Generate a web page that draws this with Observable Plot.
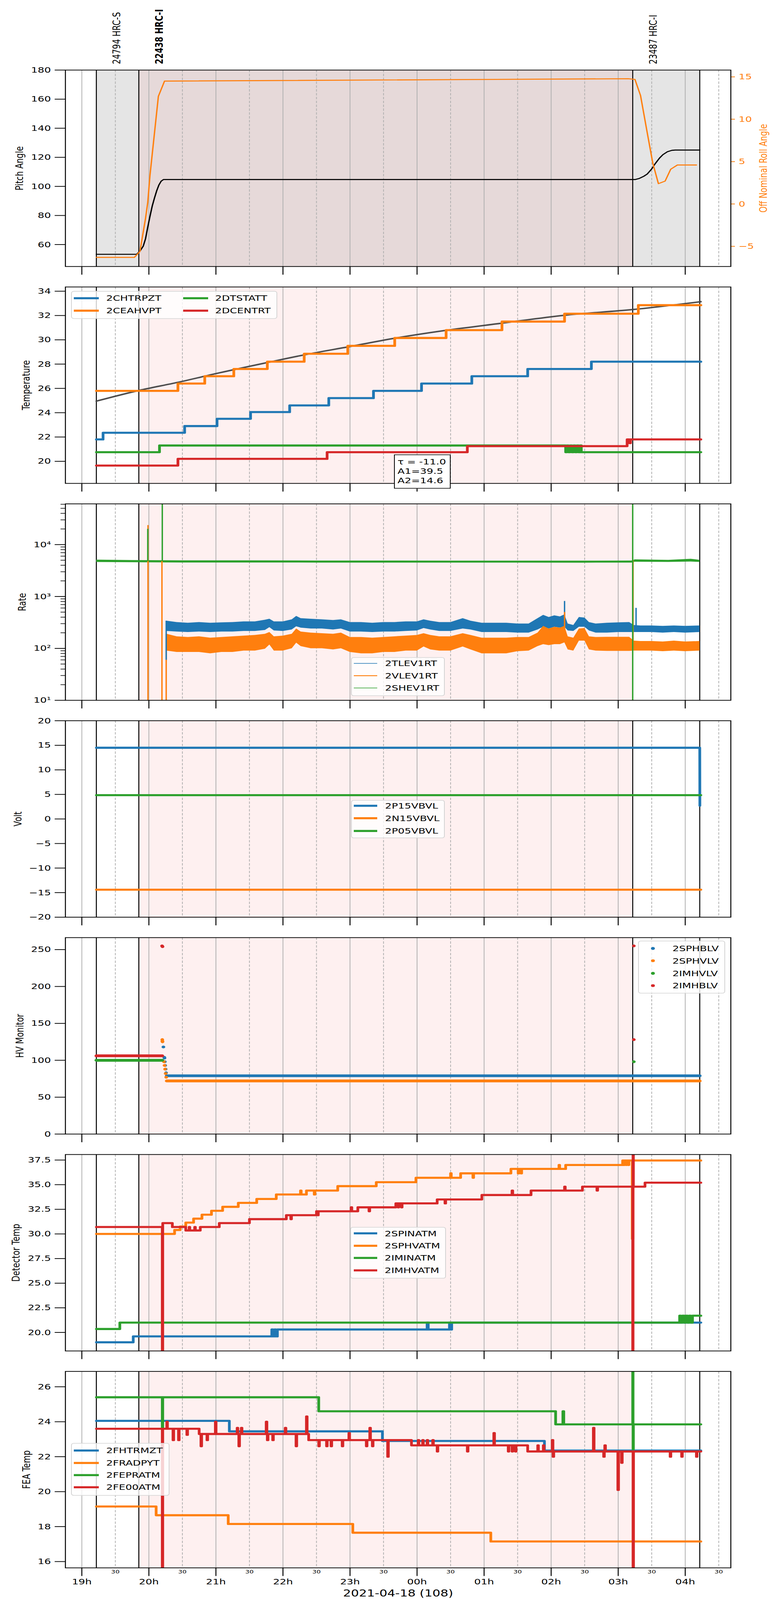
<!DOCTYPE html>
<html><head><meta charset="utf-8">
<script src="https://cdn.jsdelivr.net/npm/d3@7"></script>
<script src="https://cdn.jsdelivr.net/npm/@observablehq/plot@0.6"></script>
<style>
html,body{margin:0;padding:0;background:#fff;overflow:hidden;}
#wrap{position:relative;width:2000px;overflow:hidden;}
#root{position:absolute;left:0;top:0;width:2000px;height:5400px;font-family:"DejaVu Sans";transform-origin:0 0;}
.legend{position:absolute;box-sizing:border-box;border:2px solid #d3d3d3;border-radius:7px;background:rgba(255,255,255,0.8);z-index:5;}
.lgh{position:absolute;z-index:6;}
.lgt{position:absolute;z-index:6;font-family:"DejaVu Sans";font-size:26.67px;line-height:30px;white-space:nowrap;color:#000;}
.note{position:absolute;box-sizing:border-box;border:2px solid #000;background:#fff;z-index:5;}
</style></head><body><div id="wrap"><div id="root"></div></div>
<script>
// ---------------- DATA ----------------
const obsidIds = ["24794", "22438", "23487"];
const obsidInstr = ["HRC-S", "HRC-I", "HRC-I"];
const obsidStart = ["19:13", "19:51", "03:13"];
const obsidStop  = ["19:51", "03:13", "04:13"];
const currentObsid = "22438";

const hourTicks  = ["19:00","20:00","21:00","22:00","23:00","00:00","01:00","02:00","03:00","04:00"];
const hourLabels = ["19h","20h","21h","22h","23h","00h","01h","02h","03h","04h"];
const halfTicks  = ["19:30","20:30","21:30","22:30","23:30","00:30","01:30","02:30","03:30","04:30"];
const halfLabels = ["30","30","30","30","30","30","30","30","30","30"];
const xLabel = "2021-04-18 (108)";

// Panel 1: pitch / roll
const pitchAngle = [["19:13",53.3],["19:49",53.3],["19:52",55.5],["19:55",59],["19:57",64],["19:59",72],["20:01",79.5],["20:03",86.5],["20:05",92],["20:07",97],["20:09",101],["20:11",103.6],["20:13",104.7],["03:15",104.7],["03:19",105.5],["03:23",107],["03:26",108.5],["03:30",112],["03:33",115.5],["03:37",119.5],["03:40",121.8],["03:44",123.8],["03:48",124.8],["03:51",125],["04:13",125]];
const rollAngle = [["19:13",-6.3],["19:47",-6.3],["19:52",-5.6],["19:57",-1.7],["19:59",0.2],["20:01",3.4],["20:08.5",12.7],["20:14",14.5],["03:09",14.78],["03:15",14.7],["03:20",12.8],["03:26",8.4],["03:31",4.8],["03:36",2.4],["03:42",2.7],["03:47",4.1],["03:53",4.6],["04:10",4.6]];
const pitchTicks = [60,80,100,120,140,160,180];
const pitchTickLabels = ["60","80","100","120","140","160","180"];
const rollTicks = [-5,0,5,10,15];
const rollTickLabels = ["\u22125","0","5","10","15"];

// Panel 2: temperatures
const tempNames = ["2CHTRPZT","2CEAHVPT","2DTSTATT","2DCENTRT"];
const chtrpzt = [["19:13",21.8],["19:19",22.35],["20:32",22.9],["21:01",23.5],["21:31",24.05],["22:06",24.6],["22:41",25.2],["23:21",25.8],["00:04",26.4],["00:49",27.0],["01:39",27.6],["02:36",28.2],["04:14",28.2]];
const ceahvpt = [["19:13",25.8],["20:26",26.4],["20:50",27.0],["21:16",27.6],["21:46",28.2],["22:19",28.85],["22:58",29.5],["23:40",30.15],["00:26",30.8],["01:16",31.5],["02:12",32.15],["03:18",32.85],["04:14",32.85]];
const dtstatt = [["19:13",20.75],["20:09.5",21.3],["02:13",20.75],["02:14",21.3],["02:15.5",20.75],["02:17",21.3],["02:18.5",20.75],["02:20",21.3],["02:21.5",20.75],["02:23",21.3],["02:24.5",20.75],["02:26",21.3],["02:27",20.75],["04:14",20.75]];
const dcentrt = [["19:13",19.65],["20:26",20.2],["22:39.5",20.75],["00:45",21.25],["03:08",21.8],["03:10",21.5],["03:11",21.8],["04:14",21.8]];
const tempModel = [["19:13",24.95],["19:51",25.83],["20:26",26.5],["21:03",27.28],["21:46",28.13],["22:19",28.76],["22:59",29.43],["23:42",30.16],["00:26",30.78],["01:16",31.37],["02:12",32.02],["03:13",32.49],["04:14",33.14]];
const fitText = ["\u03c4 = -11.0","A1=39.5","A2=14.6"];
const tempTicks = [20,22,24,26,28,30,32,34];
const tempTickLabels = ["20","22","24","26","28","30","32","34"];

// Panel 3: rates (noise envelopes)
const rateNames = ["2TLEV1RT","2VLEV1RT","2SHEV1RT"];
const rateTimes = ["20:16","20:25","20:35","20:45","20:55","21:05","21:15","21:25","21:35","21:44",
  "21:48","21:52","22:00","22:08","22:12","22:16","22:25","22:35","22:45","22:52",
  "23:00","23:10","23:20","23:30","23:40","23:50","00:00","00:06","00:12","00:20",
  "00:30","00:41","00:48","00:58","01:10","01:20","01:30","01:40",
  "01:48","01:53","01:58","02:03","02:08","02:12","02:15","02:20","02:25","02:30","02:34","02:40",
  "02:50","03:00","03:10","03:14","03:20","03:30","03:40","03:50","04:00","04:13"];
const tlevLo = [215,210,205,210,205,210,210,215,215,225, 255,220,215,230,265,250,240,240,230,240, 210,210,205,210,210,215,220,245,230,215, 215,240,230,205,205,205,200,200, 230,260,240,260,250,260,220,215,260,260,220,200, 200,205,205,205,205,205,200,205,200,205];
const tlevHi = [340,320,310,320,310,315,320,330,330,355, 370,330,330,360,420,380,370,360,350,360, 320,320,310,320,320,330,330,360,340,320, 320,380,340,310,310,310,300,300, 380,440,400,430,410,450,300,280,400,390,320,300, 310,315,320,280,275,275,270,275,270,275];
const vlevLo = [90,85,85,85,80,85,85,90,90,98, 118,90,90,100,128,110,100,100,95,100, 85,80,80,85,85,90,90,108,95,90, 90,108,95,80,80,80,88,90, 110,120,115,120,120,130,95,90,140,140,95,90, 89,89,89,90,90,90,88,90,88,90];
const vlevHi = [190,170,165,170,160,165,170,175,180,190, 205,170,175,190,240,210,200,195,190,200, 165,165,160,165,170,175,180,195,180,170, 170,195,180,160,160,160,165,165, 200,270,240,260,250,270,170,160,240,245,170,165, 166,166,166,140,138,138,135,140,135,138];
const shevTimes = ["19:13","19:45","20:30","21:30","22:30","23:30","00:30","01:30","02:30","03:12","03:15","03:45","04:05","04:13"];
const shevLo = [4600,4550,4500,4500,4480,4480,4470,4470,4460,4480,4650,4600,4700,4600];
const shevHi = [5100,5000,4950,4950,4900,4900,4880,4880,4870,4900,5150,5050,5300,5050];
const spikeTimes  = ["19:59.2","19:59","20:12","20:11.7","20:15.5","20:15.5","02:12","02:12","03:13.3","03:13","03:16"];
const spikeSeries = ["2VLEV1RT","2SHEV1RT","2SHEV1RT","2VLEV1RT","2VLEV1RT","2TLEV1RT","2TLEV1RT","2VLEV1RT","2VLEV1RT","2SHEV1RT","2TLEV1RT"];
const spikeLo = [10,4800,4800,10,10,60,300,150,100,10,250];
const spikeHi = [23600,20000,90000,4800,190,340,815,500,5000,90000,600];
const rateTicks = [10,100,1000,10000];
const rateTickLabels = ["10\u00b9","10\u00b2","10\u00b3","10\u2074"];
const rateMinor = [20,30,40,50,60,70,80,90,200,300,400,500,600,700,800,900,2000,3000,4000,5000,6000,7000,8000,9000,20000,30000,40000,50000,60000];

// Panel 4: voltages
const voltNames = ["2P15VBVL","2N15VBVL","2P05VBVL"];
const p15vbvl = [["19:13",14.5],["04:13",14.5],["04:13.1",2.7]];
const n15vbvl = [["19:13",-14.4],["04:14",-14.4]];
const p05vbvl = [["19:13",4.85],["04:14",4.85]];
const voltTicks = [-20,-15,-10,-5,0,5,10,15,20];
const voltTickLabels = ["\u221220","\u221215","\u221210","\u22125","0","5","10","15","20"];

// Panel 5: HV monitor
const hvNames = ["2SPHBLV","2SPHVLV","2IMHVLV","2IMHBLV"];
const sphblvLevel = [["20:16",79],["04:13",79]];
const sphvlvLevel = [["20:16",72],["04:13",72]];
const imhvlvLevel = [["19:13",100],["20:12",100]];
const imhblvLevel = [["19:13",106],["20:12",106]];
const sphblvDots = [["20:13",118],["20:13.8",104],["20:14",103],["20:14.3",98],["20:14.6",93],["20:15",88],["20:15.4",83]];
const sphvlvDots = [["20:12",128],["20:12.1",126],["20:12.2",125],["20:13.5",98],["20:14",93],["20:14.5",88],["20:15",82],["20:15.5",77]];
const imhvlvDots = [["03:14",98]];
const imhblvDots = [["20:11.8",255],["20:12.2",254],["03:14",255],["03:14",128]];
const hvTicks = [0,50,100,150,200,250];
const hvTickLabels = ["0","50","100","150","200","250"];

// Panel 6: detector temperatures
const detNames = ["2SPINATM","2SPHVATM","2IMINATM","2IMHVATM"];
const spinatm = [["19:13",19.0],["19:46",19.6],["21:50",20.3],["21:51",19.6],["21:52.5",20.3],["21:53.5",19.6],["21:55",20.3],["00:09",21.0],["00:10",20.3],["00:29",21.0],["00:30",20.3],["00:31",21.0],["04:14",21.0]];
const sphvatm = [["19:13",30.0],["20:23",30.4],["20:28",30.75],["20:33",31.15],["20:40",31.55],["20:47.5",31.95],["20:56",32.35],["21:06",32.75],["21:20",33.15],["21:36.5",33.55],["21:54",34.0],["22:21",34.4],["22:49",34.85],["23:23.5",35.25],["23:59",35.7],["00:39",36.15],["01:24",36.6],["02:13",37.0],["03:04",37.45],["04:14",37.45]];
const sphvatmSpikes = [["22:15.7",34.4],["22:28",34.0],["00:30",36.15],["00:50",35.7],["01:30.5",36.15],["01:33",36.15],["02:07",37.0],["03:05",37.0],["03:07",37.0],["03:09",37.0],["03:12.6",29.5]];
const iminatm = [["19:13",20.35],["19:34",21.0],["03:55",21.7],["03:56",21.0],["03:57.5",21.7],["03:59",21.0],["04:00.5",21.7],["04:02",21.0],["04:03.5",21.7],["04:05",21.0],["04:06.5",21.7],["04:14",21.7]];
const imhvatm = [["19:13",30.7],["20:12",17],["20:12.4",31.1],["20:21",30.7],["20:33",30.35],["20:46",30.7],["21:03",31.1],["21:30",31.5],["22:03",31.9],["22:30",32.3],["23:07",32.7],["23:41",33.1],["00:18",33.5],["00:58",33.95],["01:42",34.4],["02:28",34.8],["03:24",35.2],["04:14",35.2]];
const imhvatmSpikes = [["20:36",30.7],["20:41",30.7],["22:07",31.5],["22:31",31.9],["23:01",32.7],["23:17",32.3],["23:43",32.7],["23:46",32.7],["00:25",33.1],["01:25",34.4],["02:12",34.8],["02:41",34.4],["03:13",17],["03:13.3",40]];
const detTicks = [20,22.5,25,27.5,30,32.5,35,37.5];
const detTickLabels = ["20.0","22.5","25.0","27.5","30.0","32.5","35.0","37.5"];

// Panel 7: FEA temperatures
const feaNames = ["2FHTRMZT","2FRADPYT","2FEPRATM","2FE00ATM"];
const fhtrmzt = [["19:13",24.05],["21:12",23.45],["23:29",22.9],["01:54",22.35],["04:14",22.35]];
const fradpyt = [["19:13",19.15],["20:06.5",18.65],["21:11",18.15],["23:02.5",17.65],["01:06",17.15],["04:14",17.15]];
const fepratm = [["19:13",25.4],["20:12",23.65],["20:12.4",25.4],["22:32",24.6],["02:04",23.85],["02:10.5",24.6],["02:11.3",23.85],["03:13",27.5],["03:13.3",22.43],["03:13.6",23.85],["04:14",23.85]];
const fe00atm = [["19:13",23.6],["20:12",15],["20:12.4",23.6],["20:45",23.3],["22:23",22.95],["23:55",22.65],["01:39",22.3],["03:13.3",15],["03:13.7",22.3],["04:14",22.3]];
const fe00atmSpikes = [["20:16",24.0],["20:21.6",22.95],["20:26.5",22.95],["20:34",23.25],["20:46.6",22.6],["20:52",22.95],["20:59.5",24.0],["21:19",23.65],["21:20.5",22.6],["21:22.7",23.65],["21:45",24.0],["21:46",22.95],["21:50.8",22.95],["22:02",23.65],["22:11.7",22.6],["22:21",24.3],["22:32",22.6],["22:39",22.6],["22:43",22.6],["22:53",22.6],["22:59",23.35],["23:14.6",22.6],["23:17.7",23.65],["23:20",22.6],["23:33.7",22.0],["00:01",22.95],["00:05",22.95],["00:09",22.95],["00:14",22.95],["00:18",22.3],["00:45",22.3],["01:08.7",23.35],["01:21.6",22.3],["01:25",22.3],["01:28",22.3],["01:48",22.65],["01:53",22.65],["02:01",22.95],["02:01.7",22.0],["02:37.8",23.65],["02:47",22.0],["02:48",22.65],["02:59.7",20.1],["03:03",21.65],["03:46.5",22.0],["03:56.8",22.0],["04:10",22.0]];
const feaTicks = [16,18,20,22,24,26];
const feaTickLabels = ["16","18","20","22","24","26"];

const yLabels = ["Pitch Angle","Temperature","Rate","Volt","HV Monitor","Detector Temp","FEA Temp"];
const rollLabel = "Off Nominal Roll Angle";
const C = {blue:"#1f77b4", orange:"#ff7f0e", green:"#2ca02c", red:"#d62728"};

// ---------------- LAYOUT ----------------
const root = document.getElementById("root");
const W = 2000, H = 5400, ML = 167, MR = 129, PH = 663, STEP = 732, TOP0 = 236;
const X_DOMAIN = [18.755, 28.68];
const T = s => { const i = s.indexOf(":"); let h = +s.slice(0, i); if (h < 12) h += 24; return h + parseFloat(s.slice(i + 1)) / 60; };
const series = arr => arr.map(([t, v]) => ({t: T(t), v}));
function withSpikes(steps, spikes, w = 0.6) {
  const base = series(steps);
  const out = base.slice();
  for (const [ts, tip] of spikes) {
    const t = T(ts);
    let b = base[0].v;
    for (const p of base) if (p.t <= t) b = p.v;
    out.push({t, v: tip}, {t: t + w / 60, v: b});
  }
  return out.sort((a, b) => a.t - b.t);
}
const HOUR = hourTicks.map(T), HALF = halfTicks.map(T);
const hourFmt = new Map(HOUR.map((v, i) => [v, hourLabels[i]]));
const halfFmt = new Map(HALF.map((v, i) => [v, halfLabels[i]]));
const obs = obsidIds.map((id, i) => ({id, label: id + " " + obsidInstr[i], x1: T(obsidStart[i]), x2: T(obsidStop[i])}));
const cur = obs.filter(o => o.id === currentObsid);
const bounds = [...new Set(obs.flatMap(o => [o.x1, o.x2]))];

function bgMarks(yd, first) {
  const m = [];
  const y1 = () => yd[0], y2 = () => yd[1];
  if (first) {
    m.push(Plot.rect(obs, {x1: "x1", x2: "x2", y1, y2, fill: "#e5e5e5"}));
    m.push(Plot.rect(cur, {x1: "x1", x2: "x2", y1, y2, fill: "#e6d9d9"}));
  } else {
    m.push(Plot.rect(cur, {x1: "x1", x2: "x2", y1, y2, fill: "#fef0f0"}));
  }
  m.push(Plot.ruleX(HOUR, {stroke: "#b0b0b0", strokeWidth: 2}));
  m.push(Plot.ruleX(HALF, {stroke: "#b0b0b0", strokeWidth: 2, strokeDasharray: "8,5"}));
  m.push(Plot.ruleX(bounds, {stroke: "black", strokeWidth: 2.5}));
  return m;
}
function xAxisMarks(bottom) {
  const m = [Plot.axisX(HOUR, {tickSize: 28, tickPadding: 9, strokeWidth: 2.5, fontSize: 26.67,
    tickFormat: bottom ? d => hourFmt.get(d) : () => "", label: null})];
  if (bottom) {
    m.push(Plot.axisX(HALF, {tickSize: 0, tickPadding: 7, fontSize: 17, tickFormat: d => halfFmt.get(d), label: null}));
    m.push(Plot.text([xLabel], {text: d => d, frameAnchor: "bottom", dy: 74, fontSize: 32, lineAnchor: "top"}));
  }
  return m;
}
function yAxis(ticks, labels, opts = {}) {
  const fmt = new Map(ticks.map((v, i) => [v, labels[i]]));
  return Plot.axisY(ticks, {tickSize: 27, tickPadding: 10, strokeWidth: 2.5, fontSize: 26.67,
    tickFormat: d => fmt.get(d), label: null, ...opts});
}
function yLabelMark(label, cx) {
  return Plot.text([label], {text: d => d, frameAnchor: "left", dx: cx - ML, rotate: -90, fontSize: 26.67, textAnchor: "middle", lineAnchor: "middle"});
}
function stepLine(data, color, w = 7) {
  return Plot.line(data, {x: "t", y: "v", curve: "step-after", stroke: color, strokeWidth: w, clip: true});
}
function panel(k, cfg) {
  const top = TOP0 + STEP * k;
  const mt = k === 0 ? TOP0 : 12;
  const mb = k === 6 ? H - (top + PH) : 45;
  const svg = Plot.plot({
    width: W, height: mt + PH + mb,
    marginLeft: ML, marginRight: MR, marginTop: mt, marginBottom: mb,
    x: {domain: X_DOMAIN},
    y: {domain: cfg.yDomain, type: cfg.type || "linear"},
    style: {background: "transparent", fontFamily: "DejaVu Sans", fontSize: "26.67px", overflow: "visible", color: "black"},
    marks: [
      ...bgMarks(cfg.yDomain, k === 0),
      ...cfg.marks,
      ...xAxisMarks(k === 6),
      ...cfg.yAxes,
      yLabelMark(yLabels[k], cfg.labelX),
      Plot.frame({stroke: "black", strokeWidth: 2.5})
    ]
  });
  svg.style.position = "absolute";
  svg.style.left = "0px";
  svg.style.top = (top - mt) + "px";
  svg.style.maxWidth = "none";
  root.appendChild(svg);
}

// ---- Panel 1 ----
const PITCH_DOM = [44.9, 180], ROLL_DOM = [-7.38, 15.8];
const r2p = r => PITCH_DOM[0] + (r - ROLL_DOM[0]) / (ROLL_DOM[1] - ROLL_DOM[0]) * (PITCH_DOM[1] - PITCH_DOM[0]);
const rollFmt = new Map(rollTicks.map((r, i) => [r2p(r), rollTickLabels[i]]));
panel(0, {
  yDomain: PITCH_DOM, labelX: 50,
  marks: [
    Plot.line(series(pitchAngle), {x: "t", y: "v", stroke: "black", strokeWidth: 3.5, clip: true}),
    Plot.line(series(rollAngle).map(d => ({t: d.t, v: r2p(d.v)})), {x: "t", y: "v", stroke: C.orange, strokeWidth: 3.5, clip: true}),
    Plot.text(obs.filter(o => o.id !== currentObsid), {x: "x1", text: "label", frameAnchor: "top", dy: -20, dx: 53, rotate: -90, textAnchor: "start", lineAnchor: "middle", fontSize: 26.67}),
    Plot.text(cur, {x: "x1", text: "label", frameAnchor: "top", dy: -20, dx: 53, rotate: -90, textAnchor: "start", lineAnchor: "middle", fontSize: 26.67, fontWeight: "bold"}),
    Plot.text([rollLabel], {text: d => d, frameAnchor: "right", dx: 84, rotate: -90, fontSize: 26.67, textAnchor: "middle", lineAnchor: "middle", fill: C.orange})
  ],
  yAxes: [
    yAxis(pitchTicks, pitchTickLabels),
    Plot.axisY(rollTicks.map(r2p), {anchor: "right", tickSize: 10, tickPadding: 10, strokeWidth: 2.5, fontSize: 26.67, color: C.orange, tickFormat: d => rollFmt.get(d), label: null})
  ]
});

// ---- Panel 2 ----
panel(1, {
  yDomain: [18.18, 34.35], labelX: 67,
  marks: [
    Plot.line(series(tempModel), {x: "t", y: "v", stroke: "#444", strokeOpacity: 0.95, strokeWidth: 5, curve: "monotone-x", clip: true}),
    stepLine(series(chtrpzt), C.blue),
    stepLine(series(ceahvpt), C.orange),
    stepLine(series(dtstatt), C.green),
    stepLine(series(dcentrt), C.red)
  ],
  yAxes: [yAxis(tempTicks, tempTickLabels)]
});

// ---- Panel 3 ----
const rateRows = rateTimes.map((t, i) => ({t: T(t), blo: tlevLo[i], bhi: tlevHi[i], olo: vlevLo[i], ohi: vlevHi[i]}));
const shevRows = shevTimes.map((t, i) => ({t: T(t), lo: shevLo[i], hi: shevHi[i]}));
const rateColor = {"2TLEV1RT": C.blue, "2VLEV1RT": C.orange, "2SHEV1RT": C.green};
const spikeRows = spikeTimes.map((t, i) => ({t: T(t), s: spikeSeries[i], lo: spikeLo[i], hi: spikeHi[i]}));
panel(2, {
  yDomain: [10, 61000], type: "log", labelX: 57,
  marks: [
    Plot.areaY(rateRows, {x: "t", y1: "blo", y2: "bhi", fill: C.blue, clip: true}),
    Plot.areaY(rateRows, {x: "t", y1: "olo", y2: "ohi", fill: C.orange, clip: true}),
    Plot.areaY(shevRows, {x: "t", y1: "lo", y2: "hi", fill: C.green, clip: true}),
    Plot.ruleX(spikeRows, {x: "t", y1: "lo", y2: "hi", stroke: d => rateColor[d.s], strokeWidth: 3.5, clip: true})
  ],
  yAxes: [
    yAxis(rateTicks, rateTickLabels),
    Plot.axisY(rateMinor, {tickSize: 12, strokeWidth: 2, tickFormat: () => "", label: null})
  ]
});

// ---- Panel 4 ----
panel(3, {
  yDomain: [-20, 20], labelX: 46,
  marks: [
    Plot.line(series(p15vbvl), {x: "t", y: "v", stroke: C.blue, strokeWidth: 7, clip: true}),
    Plot.line(series(n15vbvl), {x: "t", y: "v", stroke: C.orange, strokeWidth: 7, clip: true}),
    Plot.line(series(p05vbvl), {x: "t", y: "v", stroke: C.green, strokeWidth: 7, clip: true})
  ],
  yAxes: [yAxis(voltTicks, voltTickLabels)]
});

// ---- Panel 5 ----
const hvLine = (d, c) => Plot.line(series(d), {x: "t", y: "v", stroke: c, strokeWidth: 9.5, strokeLinecap: "round", clip: true});
const hvDot = (d, c) => Plot.dot(series(d), {x: "t", y: "v", r: 4.7, fill: c, clip: true});
panel(4, {
  yDomain: [0, 266.2], labelX: 51,
  marks: [
    hvLine(sphblvLevel, C.blue), hvDot(sphblvDots, C.blue),
    hvLine(sphvlvLevel, C.orange), hvDot(sphvlvDots, C.orange),
    hvLine(imhvlvLevel, C.green), hvDot(imhvlvDots, C.green),
    hvLine(imhblvLevel, C.red), hvDot(imhblvDots, C.red)
  ],
  yAxes: [yAxis(hvTicks, hvTickLabels)]
});

// ---- Panel 6 ----
panel(5, {
  yDomain: [18.12, 38.06], labelX: 41,
  marks: [
    stepLine(series(spinatm), C.blue),
    stepLine(withSpikes(sphvatm, sphvatmSpikes), C.orange),
    stepLine(series(iminatm), C.green),
    stepLine(withSpikes(imhvatm, imhvatmSpikes), C.red)
  ],
  yAxes: [yAxis(detTicks, detTickLabels)]
});

// ---- Panel 7 ----
panel(6, {
  yDomain: [15.64, 26.88], labelX: 68,
  marks: [
    stepLine(series(fhtrmzt), C.blue),
    stepLine(series(fradpyt), C.orange),
    stepLine(series(fepratm), C.green),
    stepLine(withSpikes(fe00atm, fe00atmSpikes), C.red)
  ],
  yAxes: [yAxis(feaTicks, feaTickLabels)]
});

// ---------------- LEGENDS & NOTE ----------------
function el(cls, style, text) {
  const d = document.createElement("div"); d.className = cls;
  Object.assign(d.style, style); if (text != null) d.textContent = text; root.appendChild(d); return d;
}
function legend(box, items) {
  el("legend", {left: box[0] + "px", top: box[1] + "px", width: (box[2] - box[0]) + "px", height: (box[3] - box[1]) + "px"});
  for (const it of items) {
    if (it.dot) {
      el("lgh", {left: (it.hx - 4.7) + "px", top: (it.y - 4.7) + "px", width: "9.4px", height: "9.4px", borderRadius: "50%", background: it.color});
    } else {
      el("lgh", {left: it.hx + "px", top: (it.y - it.lw / 2) + "px", width: (it.hx2 - it.hx) + "px", height: it.lw + "px", background: it.color});
    }
    el("lgt", {left: it.tx + "px", top: (it.y - 15) + "px"}, it.label);
  }
}
const colors4 = [C.blue, C.orange, C.green, C.red];
legend([182, 982, 710, 1076], tempNames.map((n, i) => ({label: n, color: colors4[i], y: [1006, 1048][i % 2],
  hx: i < 2 ? 189 : 469, hx2: i < 2 ? 253 : 533, tx: i < 2 ? 272 : 551, lw: 7})));
legend([899, 2218, 1139, 2349], rateNames.map((n, i) => ({label: n, color: colors4[i], y: [2239, 2280.5, 2322][i], hx: 906, hx2: 966, tx: 986, lw: 2.7})));
legend([899, 2700, 1139, 2829], voltNames.map((n, i) => ({label: n, color: colors4[i], y: [2719.5, 2761.7, 2804][i], hx: 906, hx2: 966, tx: 986, lw: 7})));
legend([1634, 3175, 1857, 3353], hvNames.map((n, i) => ({label: n, color: colors4[i], y: [3201, 3242.5, 3285, 3326.6][i], dot: true, hx: 1672, tx: 1722})));
legend([897, 4141, 1142, 4315], detNames.map((n, i) => ({label: n, color: colors4[i], y: [4162.6, 4204, 4245.8, 4287.4][i], hx: 906, hx2: 966, tx: 985, lw: 7})));
legend([182, 4870, 434, 5048], feaNames.map((n, i) => ({label: n, color: colors4[i], y: [4895, 4937, 4978, 5019][i], hx: 189, hx2: 253, tx: 272, lw: 7})));

el("note", {left: "1009px", top: "1534px", width: "145px", height: "115px"});
fitText.forEach((s, i) => el("lgt", {left: "1018px", top: (1558 + 32 * i - 15) + "px"}, s));

// Fit the 2000x5400 chart into the actual viewport height if the window is shorter.
const vh = window.innerHeight || H;
const sy = Math.min(1, vh / H);
root.style.transform = "scale(1," + sy + ")";
document.getElementById("wrap").style.height = Math.ceil(H * sy) + "px";
</script></body></html>
